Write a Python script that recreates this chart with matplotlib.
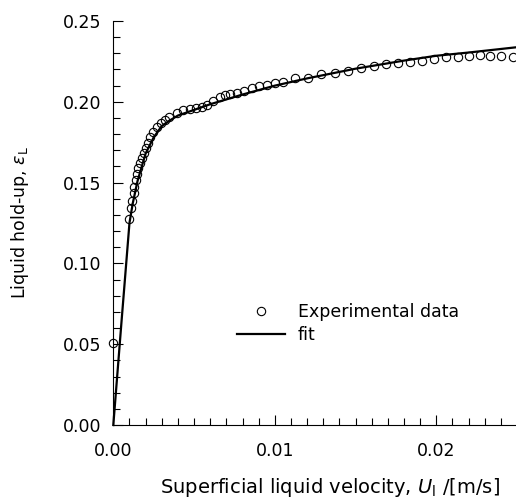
# Liquid hold-up vs superficial liquid velocity
import numpy as np
import matplotlib.pyplot as plt
from matplotlib.ticker import MultipleLocator

plt.rcParams['font.family'] = ['DejaVu Sans']
plt.rcParams['mathtext.fontset'] = 'dejavusans'

exp_x = [0.0, 0.00097, 0.00109, 0.00118, 0.00126, 0.0013, 0.00139, 0.00147,
         0.00155, 0.00163, 0.00176, 0.00188, 0.002, 0.00213, 0.00229, 0.00247,
         0.00268, 0.00295, 0.0032, 0.00344, 0.00392, 0.00433, 0.00474, 0.00511,
         0.00547, 0.00581, 0.00618, 0.0066, 0.0069, 0.00722, 0.00763, 0.00808,
         0.00856, 0.00903, 0.00952, 0.01, 0.01048, 0.01124, 0.01206, 0.01289,
         0.01371, 0.01453, 0.01536, 0.01612, 0.0169, 0.01763, 0.01839, 0.01913,
         0.01983, 0.02062, 0.02134, 0.02202, 0.02268, 0.02334, 0.02402, 0.02474]
exp_y = [0.051, 0.1273, 0.1341, 0.1388, 0.1434, 0.1475, 0.1516, 0.1553,
         0.1588, 0.1619, 0.165, 0.1681, 0.1712, 0.1743, 0.1784, 0.1815,
         0.1842, 0.1867, 0.1887, 0.1904, 0.1929, 0.1949, 0.1954, 0.196,
         0.197, 0.198, 0.2005, 0.2032, 0.2042, 0.2048, 0.2056, 0.2069,
         0.2083, 0.2098, 0.2106, 0.2114, 0.2121, 0.2145, 0.2145, 0.2172,
         0.218, 0.2192, 0.2207, 0.2221, 0.2234, 0.2242, 0.2246, 0.2254,
         0.2267, 0.2275, 0.2279, 0.2283, 0.2292, 0.2283, 0.2283, 0.2279]

# Fit curve
fit_x = [0.0, 0.0005, 0.001, 0.0012, 0.0015, 0.002, 0.0025, 0.003, 0.0035,
         0.004, 0.005, 0.006, 0.008, 0.01, 0.012, 0.015, 0.018, 0.02, 0.022, 0.025]
fit_y = [0.0, 0.063, 0.125, 0.137, 0.151, 0.168, 0.178, 0.185, 0.1885,
         0.1915, 0.1950, 0.1985, 0.2045, 0.2100, 0.2145, 0.2205, 0.2255,
         0.2285, 0.2305, 0.2338]

fig = plt.figure(figsize=(5.16, 5.04), dpi=100)
ax = fig.add_axes([0.2196, 0.1567, 0.7824, 0.8016])

ax.plot(exp_x, exp_y, 'o', mfc='none', mec='black', ms=6, mew=0.8,
        label='Experimental data', clip_on=False, zorder=3)
ax.plot(fit_x, fit_y, '-', color='black', lw=1.6, label='fit', clip_on=False)

ax.set_xlim(0, 0.025)
ax.set_ylim(0, 0.25)
ax.xaxis.set_major_locator(MultipleLocator(0.01))
ax.xaxis.set_minor_locator(MultipleLocator(0.001))
ax.yaxis.set_major_locator(MultipleLocator(0.05))
ax.yaxis.set_minor_locator(MultipleLocator(0.01))
ax.xaxis.set_major_formatter(plt.FormatStrFormatter('%.2f'))
ax.yaxis.set_major_formatter(plt.FormatStrFormatter('%.2f'))

ax.spines['top'].set_visible(False)
ax.spines['right'].set_visible(False)
ax.tick_params(which='both', direction='in', width=0.8, labelsize=12.5)
ax.tick_params(which='major', length=7)
ax.tick_params(which='minor', length=5)
ax.tick_params(axis='y', which='major', pad=8.5)
ax.tick_params(axis='x', which='major', pad=12)

ax.set_xlabel('Superficial liquid velocity, $U_{\\mathrm{l}}$ /[m/s]', fontsize=14)
ax.xaxis.set_label_coords(0.537, -0.125)
ax.set_ylabel('Liquid hold-up, $\\varepsilon_{\\mathrm{L}}$', fontsize=12.5)
ax.yaxis.set_label_coords(-0.205, 0.5)

ax.legend(loc='upper left', bbox_to_anchor=(0.306, 0.303), frameon=False,
          fontsize=12.5, borderpad=0, borderaxespad=0, handlelength=2.8,
          handletextpad=0.7, labelspacing=0.3)

fig.savefig('out.png', dpi=100)
